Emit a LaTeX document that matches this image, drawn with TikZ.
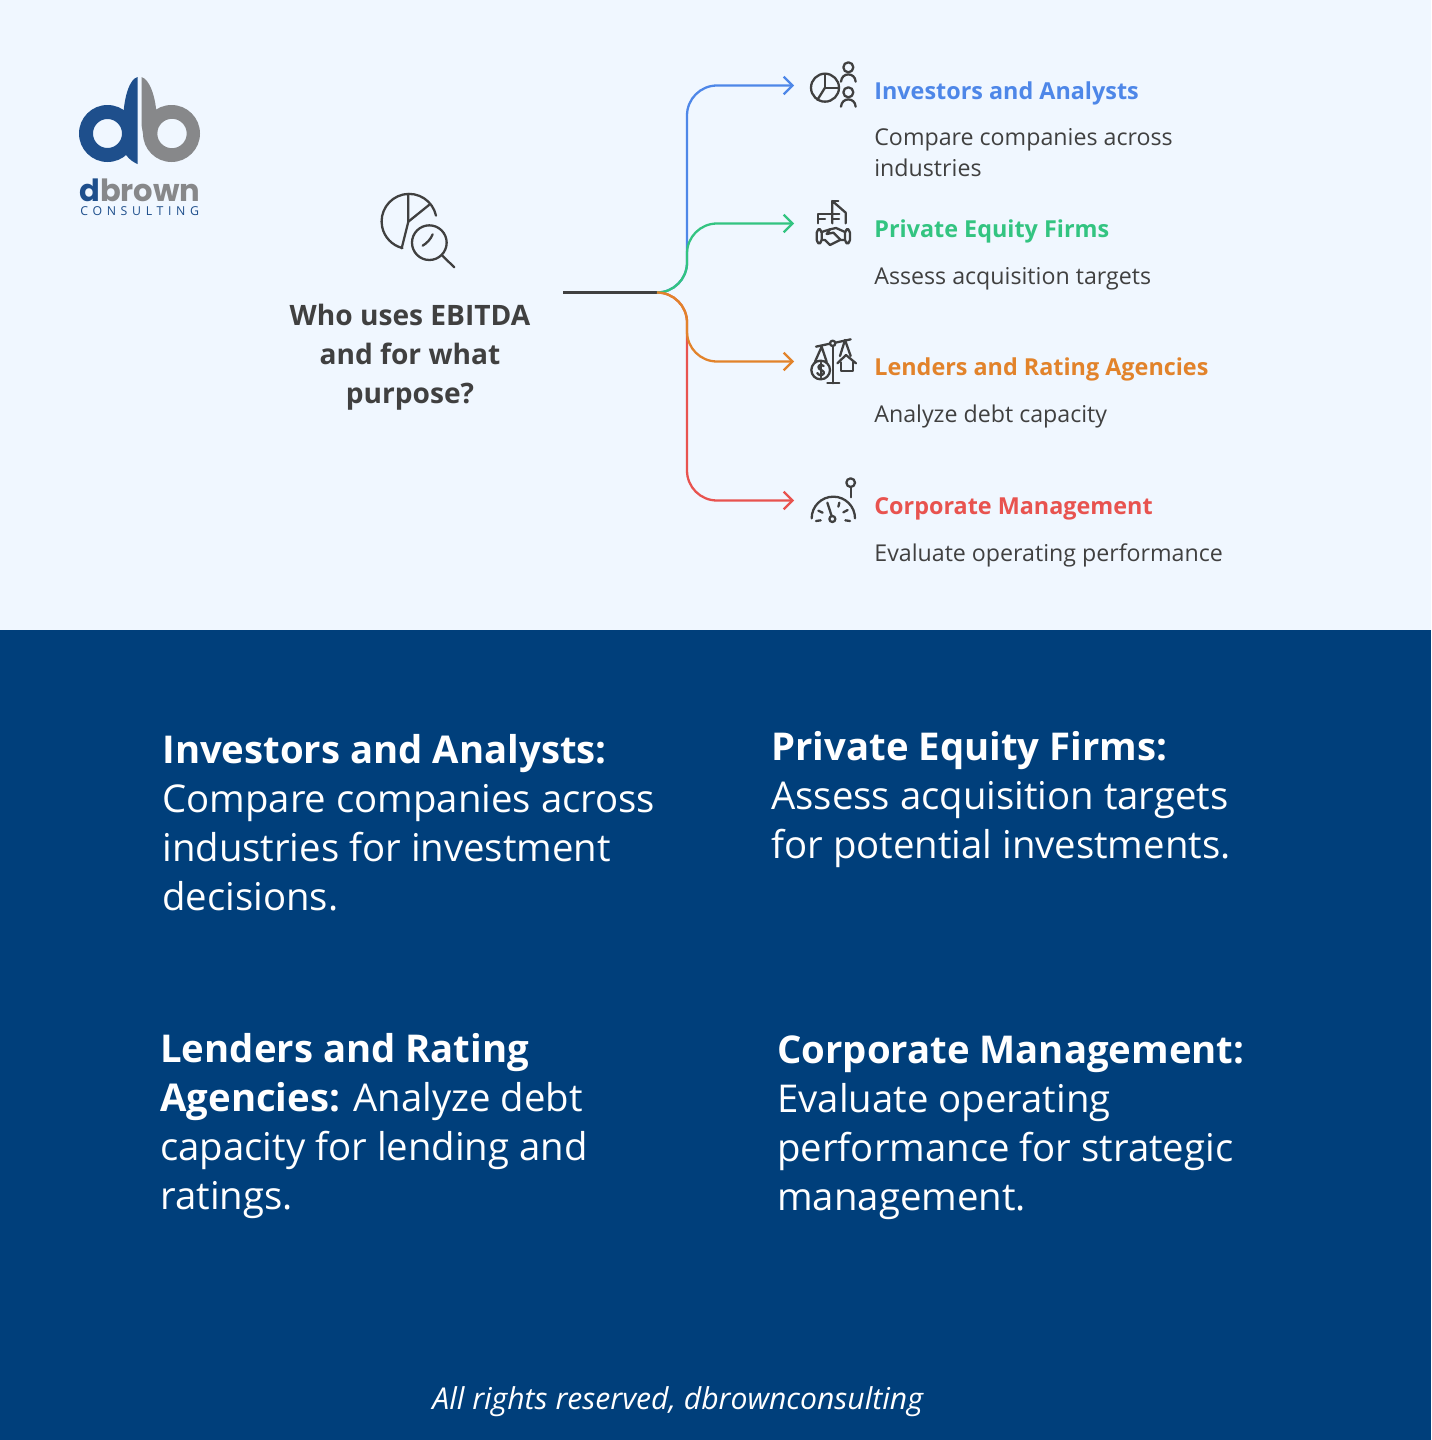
\documentclass[tikz,border=0pt]{standalone}
\usepackage{fontspec}
\setmainfont{Open Sans}
\newfontfamily\logofont{Poppins}
\usetikzlibrary{arrows.meta}
\definecolor{pagebg}{HTML}{F0F7FF}
\definecolor{navy}{HTML}{003F7B}
\definecolor{inkgray}{HTML}{404040}
\definecolor{invblue}{HTML}{4E87E8}
\definecolor{pegreen}{HTML}{33C481}
\definecolor{lendorange}{HTML}{E2832B}
\definecolor{corpred}{HTML}{E8534F}
\definecolor{logoblue}{HTML}{1E4F8C}
\definecolor{logogray}{HTML}{87888A}
\tikzset{%
  branch/.style={line width=1.3pt, rounded corners=0.6cm},
  tipped/.style={-{Straight Barb[length=5pt,width=10pt,line width=1.3pt]}},
  icon/.style={draw=inkgray, line width=1.3pt, line cap=round, line join=round},
  question/.style={inner sep=0, align=center, text=inkgray, font=\fontsize{16}{22.2}\selectfont\bfseries},
  grouphead/.style={inner sep=0, anchor=base west, font=\fontsize{13.3}{17.6}\selectfont\bfseries},
  groupbody/.style={inner sep=0, anchor=base west, align=left, text=inkgray, font=\fontsize{13.2}{17.6}\selectfont},
  note/.style={inner sep=0, anchor=north west, align=left, text=white, font=\fontsize{21.8}{27.9}\selectfont},
}

\begin{document}
\begin{tikzpicture}[x=0.02cm,y=-0.02cm]
    \useasboundingbox (0,0) rectangle (1431,1440);
    \fill[pagebg] (0,0) rectangle (1431,630);
    \fill[navy] (0,630) rectangle (1431,1440);

    %logo
    \fill[logoblue, even odd rule] (107.5,133.5) circle (28.5) (107.5,133.5) circle (14.5);
    \fill[logoblue] (137.5,77) .. controls (130,79) and (124,95) .. (123,120)
        -- (122,145) .. controls (123,152) and (128,160) .. (137.5,164) -- cycle;
    \fill[logogray, even odd rule] (171.5,133.5) circle (28.5) (172,133.5) circle (14.7);
    \fill[logogray] (141.5,77) .. controls (149,79) and (156,95) .. (157,120)
        -- (157,134) -- (143,134) -- (141.5,125) -- cycle;
    \node[inner sep=0, anchor=base west] (brandname) at (79,201)
        {\logofont\bfseries\fontsize{17.4}{17}\selectfont\textcolor{logoblue}{d}\textcolor{logogray}{brown}};
    \node[inner sep=0, anchor=base west, text=logoblue] (brandline) at (80,215)
        {\fontsize{7}{7}\selectfont\addfontfeature{LetterSpace=38}CONSULTING};

    %central question
    \begin{scope}[shift={(360,180)},scale=1/3]
      \draw[icon] (228,107) arc[start angle=-12, end angle=-256, radius=82.5];
      \draw[icon] (125,205) -- (145,125) -- (145,42);
      \draw[icon] (145,125) -- (207,75);
      \draw[icon] (208,188) circle (52);
      \draw[icon] (245,225) -- (283,262);
      \draw[icon] (188,197) .. controls (200,190) and (212,178) .. (218,163);
    \end{scope}
    \node[question] (who) at (410,357) {Who uses EBITDA\\and for what\\purpose?};

    \coordinate (root) at (563,292.5);
    \coordinate (hub) at (657,292.5);
    \coordinate (bus) at (687,292.5);
    \coordinate (investors) at (794,85.5);
    \coordinate (equity) at (794,223.5);
    \coordinate (lenders) at (794,361.5);
    \coordinate (corporate) at (794,500.5);

    %branches
    \draw[inkgray, line width=1.3pt] (root) -- (hub);
    \draw[branch, tipped, invblue] (hub) -| (investors -| bus) -- (investors);
    \draw[branch, tipped, corpred] (hub) -| (corporate -| bus) -- (corporate);
    \draw[branch, tipped, pegreen] (hub) -| (equity -| bus) -- (equity);
    \draw[branch, tipped, lendorange] (hub) -| (lenders -| bus) -- (lenders);

    %investors icon
    \begin{scope}[shift={(780,50)},scale=1/3]
      \draw[icon] (135,113) circle (42);
      \draw[icon] (135,71) -- (135,113) -- (177,113);
      \draw[icon] (135,113) -- (112,150);
      \draw[icon] (205,52) circle (15);
      \draw[icon] (183,95) .. controls (185,66) and (225,66) .. (227,95);
      \draw[icon] (205,127) circle (15);
      \draw[icon] (183,170) .. controls (185,141) and (225,141) .. (227,170);
    \end{scope}

    %equity icon
    \begin{scope}[shift={(780,190)},scale=1/3]
      \draw[icon] (115,100) -- (115,72) -- (178,72);
      \draw[icon] (115,88) -- (135,88);
      \draw[icon] (157,100) -- (157,33) -- (197,68) -- (197,100);
      \draw[icon] (157,33) -- (175,33);
      \draw[icon] (157,88) -- (177,88);
      \draw[icon, rounded corners=2pt] (110,118) rectangle (125,160);
      \draw[icon, rounded corners=2pt] (195,118) rectangle (210,160);
      \draw[icon] (125,126) -- (150,118) -- (168,114) -- (195,126);
      \draw[icon] (125,150) -- (135,150) -- (150,165) -- (180,150) -- (195,150);
      \draw[icon] (150,118) -- (140,132) -- (160,128) -- (182,150);
    \end{scope}

    %lenders icon
    \begin{scope}[shift={(780,330)},scale=1/3]
      \draw[icon] (108,50) -- (150,41) (166,38) -- (212,28);
      \draw[icon] (158,40) circle (8);
      \draw[icon] (158,48) -- (158,160);
      \draw[icon] (142,160) -- (178,160);
      \draw[icon] (122,120) circle (28);
      \draw[icon] (105,95) -- (125,50) -- (140,95);
      \draw[icon] (131,108) .. controls (122,100) and (111,108) .. (117,116)
          .. controls (122,122) and (135,122) .. (131,131) .. controls (126,139) and (114,135) .. (112,129);
      \draw[icon] (122,98) -- (122,142);
      \draw[icon] (180,78) -- (195,30) -- (212,78);
      \draw[icon] (172,100) -- (198,75) -- (228,100);
      \draw[icon] (182,97) -- (182,122) -- (218,122) -- (218,97);
    \end{scope}

    %corporate icon
    \begin{scope}[shift={(780,470)},scale=1/3]
      \draw[icon] (95,145) arc[start angle=180, end angle=360, radius=65];
      \draw[icon] (157,147) circle (9);
      \draw[icon] (142,98) -- (155,138);
      \draw[icon] (115,122) -- (128,128);
      \draw[icon] (175,110) -- (178,98);
      \draw[icon] (190,127) -- (203,120);
      \draw[icon] (108,153) -- (122,151);
      \draw[icon] (196,151) -- (210,153);
      \draw[icon] (212,38) circle (13);
      \draw[icon] (212,52) -- (212,82);
    \end{scope}

    %group labels
    \node[grouphead, text=invblue] (investorshead) at (874,99) {Investors and Analysts};
    \node[groupbody, anchor=north west] (investorstext) at (874,128) {Compare companies across\\industries};
    \node[grouphead, text=pegreen] (equityhead) at (874,237) {Private Equity Firms};
    \node[groupbody] (equitytext) at (874,284) {Assess acquisition targets};
    \node[grouphead, text=lendorange] (lendershead) at (874,375.5) {Lenders and Rating Agencies};
    \node[groupbody] (lenderstext) at (874,422) {Analyze debt capacity};
    \node[grouphead, text=corpred] (corporatehead) at (874,514) {Corporate Management};
    \node[groupbody] (corporatetext) at (874,561) {Evaluate operating performance};

    %notes
    \node[note] (investorsnote) at (162,734) {\textbf{Investors and Analysts:}\\Compare companies across\\industries for investment\\decisions.};
    \node[note] (equitynote) at (771,731) {\textbf{Private Equity Firms:}\\Assess acquisition targets\\for potential investments.};
    \node[note] (lendersnote) at (160,1033) {\textbf{Lenders and Rating}\\\textbf{Agencies:} Analyze debt\\capacity for lending and\\ratings.};
    \node[note] (corporatenote) at (777,1035) {\textbf{Corporate Management:}\\Evaluate operating\\performance for strategic\\management.};

    \node[inner sep=0, anchor=base west, text=white, font=\fontsize{17.15}{20}\selectfont\itshape] (rights) at (432,1409) {All rights reserved, dbrownconsulting};
\end{tikzpicture}
\end{document}
